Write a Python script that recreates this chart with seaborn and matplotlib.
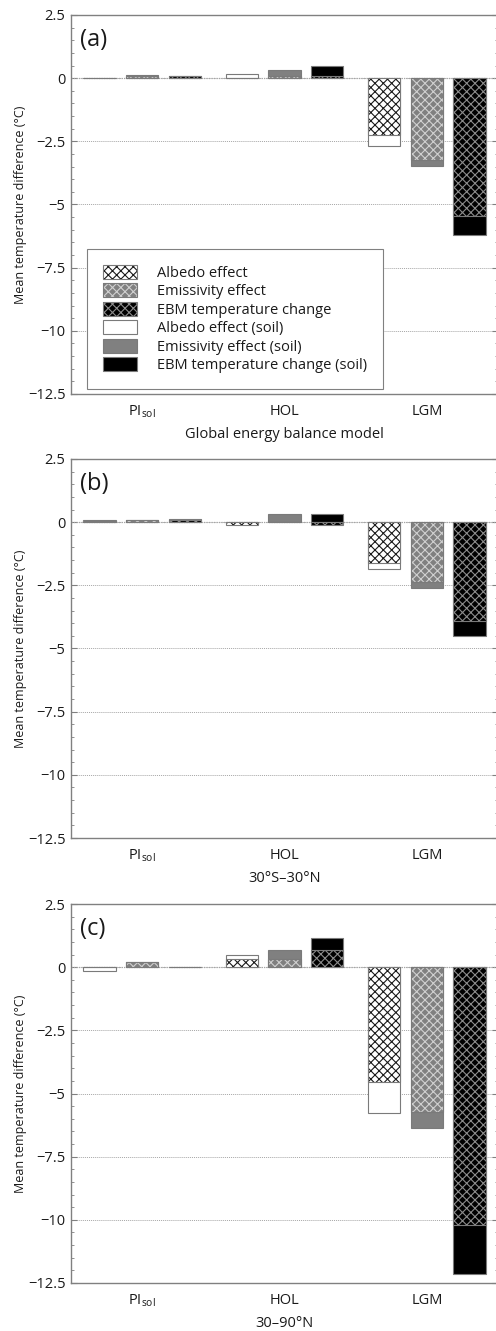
import numpy as np
import pandas as pd
import matplotlib
matplotlib.use('Agg')
import matplotlib.pyplot as plt
import matplotlib.ticker as mticker
from matplotlib.patches import Patch, Rectangle
from matplotlib.legend_handler import HandlerTuple
import seaborn as sns

# ── Data (mean temperature difference, °C) ─────────────────────────────────
periods = ['PI', 'HOL', 'LGM']
period_labels = [r'PI$_{\mathrm{sol}}$', 'HOL', 'LGM']
effects = ['Albedo effect', 'Emissivity effect', 'EBM temperature change']

# global energy balance model
glob_albedo      = [0.00, 0.02, -2.24]
glob_albedo_soil = [-0.01, 0.16, -2.69]
glob_emis        = [0.10, 0.10, -3.23]
glob_emis_soil   = [0.11, 0.32, -3.48]
glob_ebm         = [0.10, 0.10, -5.44]
glob_ebm_soil    = [0.10, 0.47, -6.20]

# 30S-30N
trop_albedo      = [0.06, -0.12, -1.60]
trop_albedo_soil = [0.08, -0.02, -1.87]
trop_emis        = [0.08, 0.01, -2.37]
trop_emis_soil   = [0.09, 0.32, -2.62]
trop_ebm         = [0.10, -0.11, -3.93]
trop_ebm_soil    = [0.12, 0.32, -4.52]

# 30-90N
north_albedo      = [0.00, 0.34, -4.56]
north_albedo_soil = [-0.15, 0.47, -5.78]
north_emis        = [0.20, 0.32, -5.73]
north_emis_soil   = [0.21, 0.67, -6.35]
north_ebm         = [0.01, 0.67, -10.20]
north_ebm_soil    = [0.02, 1.16, -12.13]

panels = [
    ('(a)', 'Global energy balance model',
     [glob_albedo, glob_emis, glob_ebm],
     [glob_albedo_soil, glob_emis_soil, glob_ebm_soil]),
    ('(b)', '30°S–30°N',
     [trop_albedo, trop_emis, trop_ebm],
     [trop_albedo_soil, trop_emis_soil, trop_ebm_soil]),
    ('(c)', '30–90°N',
     [north_albedo, north_emis, north_ebm],
     [north_albedo_soil, north_emis_soil, north_ebm_soil]),
]

# ── Style ──────────────────────────────────────────────────────────────────
FACE   = ['#ffffff', '#808080', '#000000']
HATCH  = ['#1a1a1a', '#d0d0d0', '#8c8c8c']
EDGE   = '#7a7a7a'
GRIDC  = '#a6a6a6'
TEXTC  = '#1a1a1a'
FS     = 10.5
HATCH_PAT = 'xxxx'

sns.set_style('white')
plt.rcParams['font.family'] = ['Open Sans', 'DejaVu Sans']
plt.rcParams['mathtext.fontset'] = 'custom'
plt.rcParams['mathtext.rm'] = 'Open Sans'
plt.rcParams['hatch.linewidth'] = 0.8
plt.rcParams['text.color'] = TEXTC
plt.rcParams['axes.labelcolor'] = TEXTC
plt.rcParams['xtick.color'] = TEXTC
plt.rcParams['ytick.color'] = TEXTC


def frame(values):
    rows = []
    for eff, vals in zip(effects, values):
        for p, v in zip(periods, vals):
            rows.append({'period': p, 'effect': eff, 'value': v})
    return pd.DataFrame(rows)


def fmt(v, pos):
    s = f'{v:g}'
    return s.replace('-', '\u2212')


W, H = 496, 1331
fig = plt.figure(figsize=(W / 100, H / 100), dpi=100)
tops = [15, 459, 904]
ax_h = 379

for (tag, xlabel, nosoil, soil), top in zip(panels, tops):
    ax = fig.add_axes([71 / W, 1 - (top + ax_h) / H, 427 / W, ax_h / H])

    # soil bars behind
    sns.barplot(data=frame(soil), x='period', y='value', hue='effect',
                order=periods, hue_order=effects, palette=FACE,
                saturation=1, width=0.9, gap=0.24, errorbar=None,
                edgecolor=EDGE, linewidth=0.8, legend=False, ax=ax, zorder=2)
    n_before = len(ax.containers)

    # hatched (no soil) bars on top
    sns.barplot(data=frame(nosoil), x='period', y='value', hue='effect',
                order=periods, hue_order=effects, palette=FACE,
                saturation=1, width=0.9, gap=0.24, errorbar=None,
                legend=False, ax=ax, zorder=3)
    for cont, hc in zip(ax.containers[n_before:], HATCH):
        for bar in cont:
            bar.set_hatch(HATCH_PAT)
            bar.set_edgecolor(hc)
            bar.set_linewidth(0)
            ax.add_patch(Rectangle(bar.get_xy(), bar.get_width(), bar.get_height(),
                                   fill=False, edgecolor=EDGE, lw=0.8, zorder=4))

    ax.set_xlim(-0.5, 2.5)
    ax.set_ylim(-12.5, 2.5)
    ax.yaxis.set_major_locator(mticker.MultipleLocator(2.5))
    ax.yaxis.set_minor_locator(mticker.MultipleLocator(0.5))
    ax.yaxis.set_major_formatter(mticker.FuncFormatter(fmt))
    ax.grid(axis='y', which='major', color=GRIDC, lw=0.7, ls=(0, (1, 1)), zorder=0)
    ax.axhline(0, color=GRIDC, lw=0.9, ls=(0, (1, 1)), zorder=1)
    ax.set_axisbelow(True)

    ax.set_xticks(range(len(periods)))
    ax.set_xticklabels(period_labels, fontsize=FS)
    ax.tick_params(axis='x', length=0, pad=7)
    ax.tick_params(axis='y', which='both', direction='in', right=True,
                   left=True, color='#808080', labelsize=FS, pad=4)
    ax.tick_params(axis='y', which='major', length=4)
    ax.tick_params(axis='y', which='minor', length=2.5)

    for side in ['left', 'bottom', 'top', 'right']:
        ax.spines[side].set_color('#808080')
        ax.spines[side].set_linewidth(1.0)

    ax.set_xlabel(xlabel, fontsize=FS, labelpad=5)
    ax.set_ylabel('Mean temperature difference (°C)', fontsize=9)
    ax.yaxis.set_label_coords(-0.103, 0.5)
    ax.text(0.02, 0.934, tag, transform=ax.transAxes, fontsize=17,
            va='center', ha='left')

    if tag == '(a)':
        handles = []
        for fc, hc in zip(FACE, HATCH):
            handles.append((Patch(facecolor=fc, edgecolor=hc, hatch=HATCH_PAT, lw=0),
                            Patch(facecolor='none', edgecolor=EDGE, lw=0.8)))
        for fc in FACE:
            handles.append(Patch(facecolor=fc, edgecolor=EDGE, lw=0.8))
        labels = effects + [e + ' (soil)' for e in effects]
        leg = ax.legend(handles, labels, loc='lower left',
                        bbox_to_anchor=(0.037, 0.013), borderaxespad=0,
                        fontsize=FS, handlelength=2.35, handleheight=1.1,
                        labelspacing=0.17, handletextpad=1.35, borderpad=1.1,
                        frameon=True, fancybox=False, framealpha=1,
                        edgecolor='#808080',
                        handler_map={tuple: HandlerTuple(ndivide=1, pad=0)})
        leg.get_frame().set_linewidth(0.8)
        leg.set_zorder(5)

fig.savefig('out.png', dpi=100)
